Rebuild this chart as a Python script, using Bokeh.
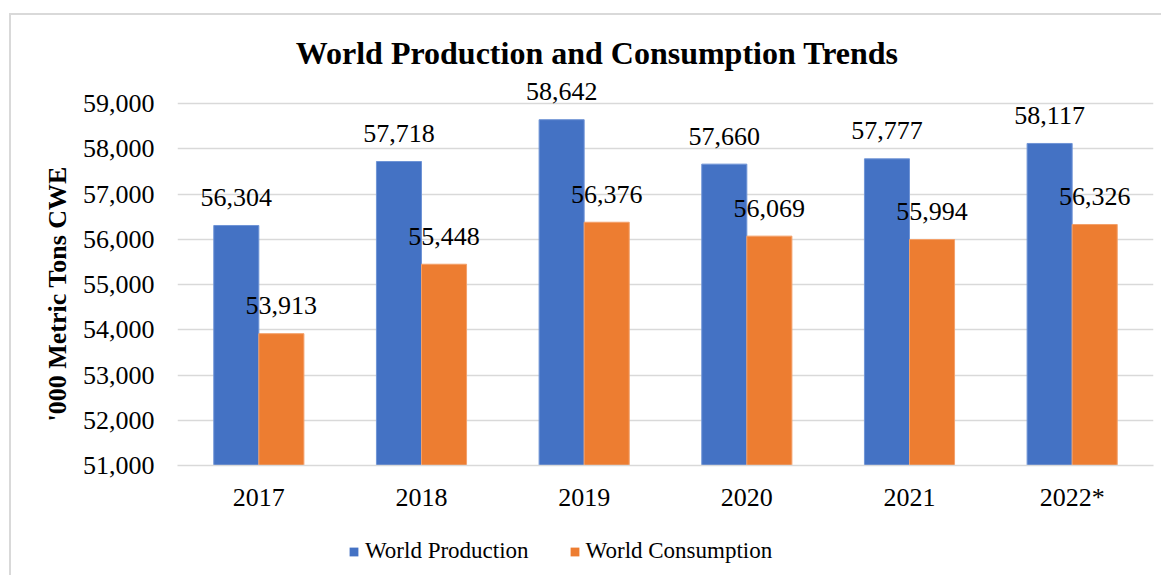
from bokeh.plotting import figure
from bokeh.layouts import column
from bokeh.models import (ColumnDataSource, Range1d, FactorRange, LabelSet, Label, Title,
                          Legend, LegendItem, FixedTicker, NumeralTickFormatter)
from bokeh.transform import dodge
from bokeh.embed import file_html
from bokeh.resources import INLINE

years = ["2017", "2018", "2019", "2020", "2021", "2022*"]
production = [56304, 57718, 58642, 57660, 57777, 58117]
consumption = [53913, 55448, 56376, 56069, 55994, 56326]
y_ticks = [51000, 52000, 53000, 54000, 55000, 56000, 57000, 58000, 59000]

BLUE = "#4472C4"
ORANGE = "#ED7D31"
FONT = "Liberation Serif"

src = ColumnDataSource(dict(
    year=years,
    prod=production,
    cons=consumption,
    prod_lbl=["{:,}".format(v) for v in production],
    cons_lbl=["{:,}".format(v) for v in consumption],
))

# frame: 435 px tall, 45.25 px per 1000 -> headroom above 59,000 for title and labels
y_end = y_ticks[0] + 435 / 0.04525

p = figure(x_range=FactorRange(*years), y_range=Range1d(y_ticks[0], y_end),
           width=1150, height=500, output_backend="svg", toolbar_location=None,
           min_border_left=166, min_border_right=8, min_border_top=15, min_border_bottom=50,
           outline_line_color=None)

bw = 0.277
off = bw / 2
r1 = p.vbar(x=dodge("year", -off, range=p.x_range), top="prod", bottom=y_ticks[0], width=bw,
            source=src, fill_color=BLUE, line_color="#6f94d6", line_width=1)
r2 = p.vbar(x=dodge("year", off, range=p.x_range), top="cons", bottom=y_ticks[0], width=bw,
            source=src, fill_color=ORANGE, line_color="#f3a06a", line_width=1)

for col, o in (("prod", -off), ("cons", off)):
    ls = LabelSet(x=dodge("year", o, range=p.x_range), y=col, text=col + "_lbl", source=src,
                  y_offset=28, text_align="center", text_baseline="middle",
                  text_font=FONT, text_font_size="26px", text_color="black")
    p.add_layout(ls)

# grid & axes
p.xgrid.grid_line_color = None
p.ygrid.ticker = FixedTicker(ticks=y_ticks)
p.ygrid.grid_line_color = "#d9d9d9"
p.ygrid.grid_line_width = 1.3

p.yaxis.ticker = FixedTicker(ticks=y_ticks)
p.yaxis.formatter = NumeralTickFormatter(format="0,0")
p.yaxis.axis_line_color = None
p.yaxis.major_tick_line_color = None
p.yaxis.minor_tick_line_color = None
p.yaxis.major_label_standoff = 17
p.yaxis.major_label_text_font = FONT
p.yaxis.major_label_text_font_size = "26px"
p.yaxis.major_label_text_color = "black"

p.xaxis.axis_line_color = "#d9d9d9"
p.xaxis.axis_line_width = 1.3
p.xaxis.major_tick_line_color = None
p.xaxis.minor_tick_line_color = None
p.xaxis.major_label_standoff = 11
p.xaxis.major_label_text_font = FONT
p.xaxis.major_label_text_font_size = "26px"
p.xaxis.major_label_text_color = "black"

ylab = Title(text="'000  Metric Tons CWE", align="left", offset=44,
             text_font=FONT, text_font_style="bold", text_font_size="26px",
             text_color="black", standoff=16)
p.add_layout(ylab, "left")

title = Label(x=2.58, y=60127, text="World Production and Consumption Trends",
              text_align="center", text_baseline="middle", text_font=FONT,
              text_font_style="bold", text_font_size="32px", text_color="black")
p.add_layout(title)

# legend strip below the chart (its frame is aligned with the main frame)
lg = figure(width=1150, height=60, output_backend="svg", toolbar_location=None,
            min_border=0, outline_line_color=None, x_range=FactorRange(*years),
            y_range=Range1d(y_ticks[0] - 2000, y_ticks[0] - 1000))
lg.axis.visible = False
lg.grid.grid_line_color = None
# swatch renderers: zero-size bars (draw nothing) that only give the legend its colours
d1 = lg.vbar(x=dodge("year", -off, range=lg.x_range), top="prod", bottom="prod", width=0,
             source=src, fill_color=BLUE, line_color=None)
d2 = lg.vbar(x=dodge("year", off, range=lg.x_range), top="cons", bottom="cons", width=0,
             source=src, fill_color=ORANGE, line_color=None)
legend = Legend(items=[LegendItem(label="World Production", renderers=[d1]),
                       LegendItem(label="World Consumption", renderers=[d2])],
                orientation="horizontal", location=(171, 11),
                glyph_width=11, glyph_height=11, label_standoff=6, spacing=40,
                padding=0, margin=0, border_line_color=None, background_fill_alpha=0,
                label_text_font=FONT, label_text_font_size="23px", label_text_color="black")
lg.add_layout(legend, "center")

layout = column(p, lg, spacing=0,
                styles={"border-left": "2px solid #d9d9d9", "border-top": "2px solid #d9d9d9",
                        "margin-left": "9px", "margin-top": "13px"})

open("out.html", "w").write(file_html(layout, INLINE))
